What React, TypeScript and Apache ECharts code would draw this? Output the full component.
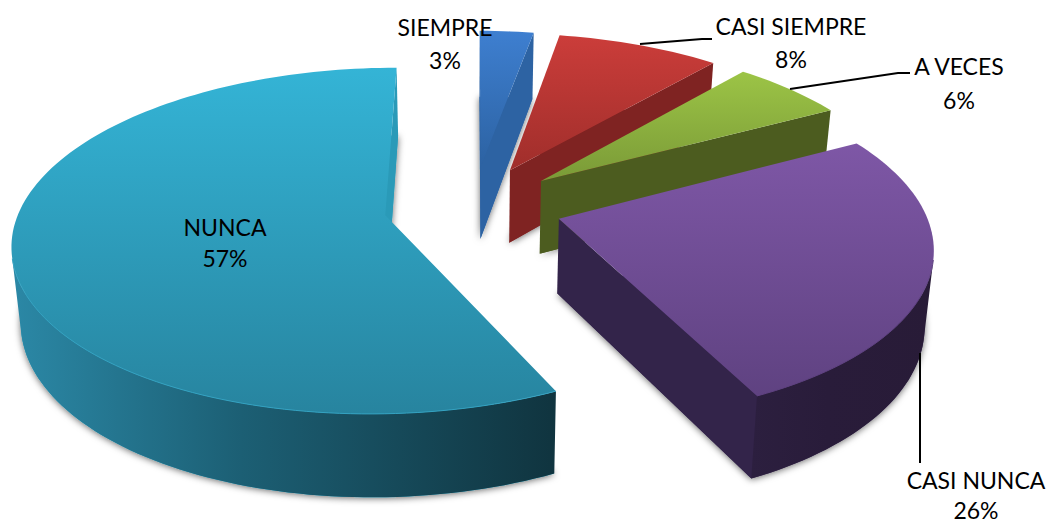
import React, { useEffect, useRef } from "react";
import * as echarts from "echarts";

const categories = ["SIEMPRE", "CASI SIEMPRE", "A VECES", "CASI NUNCA", "NUNCA"];
const percents = [2.8, 8.45, 5.9, 25.7, 57.15];

const faceTop = ["#3e7fd0", "#cb3d3a", "#9cc446", "#7e57a6", "#34b4d6"];
const faceBottom = ["#2c62a2", "#a02e2b", "#7a9a37", "#5f4281", "#27849f"];
const radialWall = ["#2d63a3", "#7f2322", "#4c5c1f", "#33244a", "#2a9ab8"];
const outerLeft = ["#2d63a3", "#7f2322", "#4c5c1f", "#2c1f3f", "#2b88a6"];
const outerMid = ["#2d63a3", "#7f2322", "#4c5c1f", "#291c3a", "#1c5f74"];
const outerRight = ["#2d63a3", "#7f2322", "#4c5c1f", "#281b37", "#10343f"];
const rimColor = ["#3e7fd0", "#a02e2b", "#7a9a37", "#5f4281", "#35a2c1"];

// [x, y of name, y of percentage] for each label block; leaders are polylines.
const labelCentres = [
  [445, 27, 60],
  [791, 26, 59],
  [959, 66, 100],
  [976, 480, 510],
  [225, 227, 258],
];
const leaders = [
  [[640, 44], [702, 39], [712, 39]],
  [[790, 89], [898, 73], [910, 73]],
  [[920, 353], [920, 463]],
];

const CX = 473;
const CY = 206;
const A = 372;
const B = 170;
const K = 0.15;
const RADIUS = 0.98;
const EXPLODE = 0.24;
const DEPTH = 74;
const SHRINK = 0.98;

function project(X: number, Y: number, bottom: boolean): number[] {
  const w = 1 - K * Y;
  if (!bottom) return [CX + (A * X) / w, CY + (B * Y) / w];
  return [CX + (SHRINK * A * X) / w, CY + (SHRINK * B * Y + DEPTH) / w];
}

function area(p: number[][]): number {
  let s = 0;
  for (let i = 0; i < p.length; i++) {
    const a = p[i];
    const b = p[(i + 1) % p.length];
    s += a[0] * b[1] - b[0] * a[1];
  }
  return s / 2;
}

const total = percents.reduce((a, b) => a + b, 0);

function renderSlice(_params: any, api: any) {
  const i = api.value(0) as number;
  const v = api.value(1) as number;
  let before = 0;
  for (let j = 0; j < i; j++) before += percents[j];
  const t0 = (before / total) * Math.PI * 2;
  const t1 = ((before + v) / total) * Math.PI * 2;
  const mid = (t0 + t1) / 2;
  const ox = Math.sin(mid) * EXPLODE;
  const oy = -Math.cos(mid) * EXPLODE;
  const rim = (t: number, bottom: boolean) =>
    project(ox + RADIUS * Math.sin(t), oy - RADIUS * Math.cos(t), bottom);
  const steps = Math.max(2, Math.ceil((t1 - t0) / (Math.PI / 120)));
  const angles: number[] = [];
  for (let s = 0; s <= steps; s++) angles.push(t0 + ((t1 - t0) * s) / steps);

  const apexTop = project(ox, oy, false);
  const apexBottom = project(ox, oy, true);
  const topRim = angles.map((t) => rim(t, false));
  const bottomRim = angles.map((t) => rim(t, true));
  const children: any[] = [];

  // soft shadow cast by the base of the slice
  children.push({
    type: "polygon",
    shape: { points: [apexBottom, ...bottomRim] },
    style: {
      fill: radialWall[i],
      shadowBlur: 7,
      shadowColor: "rgba(0,0,0,0.6)",
      shadowOffsetX: 0,
      shadowOffsetY: 1,
    },
  });

  const startWall = [apexTop, topRim[0], bottomRim[0], apexBottom];
  if (area(startWall) < 0) {
    children.push({ type: "polygon", shape: { points: startWall }, style: { fill: radialWall[i] } });
  }
  const endWall = [apexTop, topRim[steps], bottomRim[steps], apexBottom];
  if (area(endWall) > 0) {
    children.push({ type: "polygon", shape: { points: endWall }, style: { fill: radialWall[i] } });
  }

  // visible part of the curved outer wall
  const frontTop: number[][] = [];
  const frontBottom: number[][] = [];
  for (let s = 0; s < steps; s++) {
    const quad = [topRim[s], topRim[s + 1], bottomRim[s + 1], bottomRim[s]];
    if (area(quad) < 0) {
      if (!frontTop.length) {
        frontTop.push(topRim[s]);
        frontBottom.push(bottomRim[s]);
      }
      frontTop.push(topRim[s + 1]);
      frontBottom.push(bottomRim[s + 1]);
    }
  }
  if (frontTop.length) {
    children.push({
      type: "polygon",
      shape: { points: [...frontTop, ...frontBottom.slice().reverse()] },
      style: {
        fill: new echarts.graphic.LinearGradient(0, 0, 1, 0, [
          { offset: 0, color: outerLeft[i] },
          { offset: 0.42, color: outerMid[i] },
          { offset: 1, color: outerRight[i] },
        ]),
      },
    });
  }

  // top face
  children.push({
    type: "polygon",
    shape: { points: [apexTop, ...topRim] },
    style: {
      fill: new echarts.graphic.LinearGradient(0, 0, 0, 1, [
        { offset: 0, color: faceTop[i] },
        { offset: 1, color: faceBottom[i] },
      ]),
    },
  });
  if (frontTop.length) {
    children.push({
      type: "polyline",
      shape: { points: frontTop },
      style: { fill: "none", stroke: rimColor[i], lineWidth: 1 },
    });
  }
  return { type: "group", children };
}

export default function App() {
  const ref = useRef<HTMLDivElement>(null);
  useEffect(() => {
    const chart = echarts.init(ref.current!, undefined, { renderer: "svg" });
    const font = '23px Lato, "Open Sans", sans-serif';
    const graphics: any[] = [];
    leaders.forEach((pts) => {
      graphics.push({
        type: "polyline",
        z: 20,
        shape: { points: pts },
        style: { fill: "none", stroke: "#000", lineWidth: 2 },
      });
    });
    categories.forEach((name, i) => {
      const [x, y1, y2] = labelCentres[i];
      graphics.push({
        type: "text",
        z: 21,
        x,
        y: y1,
        style: { text: name, font, fill: "#000", align: "center", verticalAlign: "middle" },
      });
      graphics.push({
        type: "text",
        z: 21,
        x,
        y: y2,
        style: {
          text: Math.round(percents[i]) + "%",
          font,
          fill: "#000",
          align: "center",
          verticalAlign: "middle",
        },
      });
    });
    chart.setOption({
      animation: false,
      backgroundColor: "#ffffff",
      series: [
        {
          type: "custom",
          coordinateSystem: "none",
          renderItem: renderSlice,
          silent: true,
          data: percents.map((v, i) => [i, v]),
        },
      ],
      graphic: { elements: graphics },
    });
    return () => chart.dispose();
  }, []);
  return (
    <div
      ref={ref}
      style={{ position: "fixed", left: 0, top: 0, width: 1047, height: 525, background: "#fff" }}
    />
  );
}
